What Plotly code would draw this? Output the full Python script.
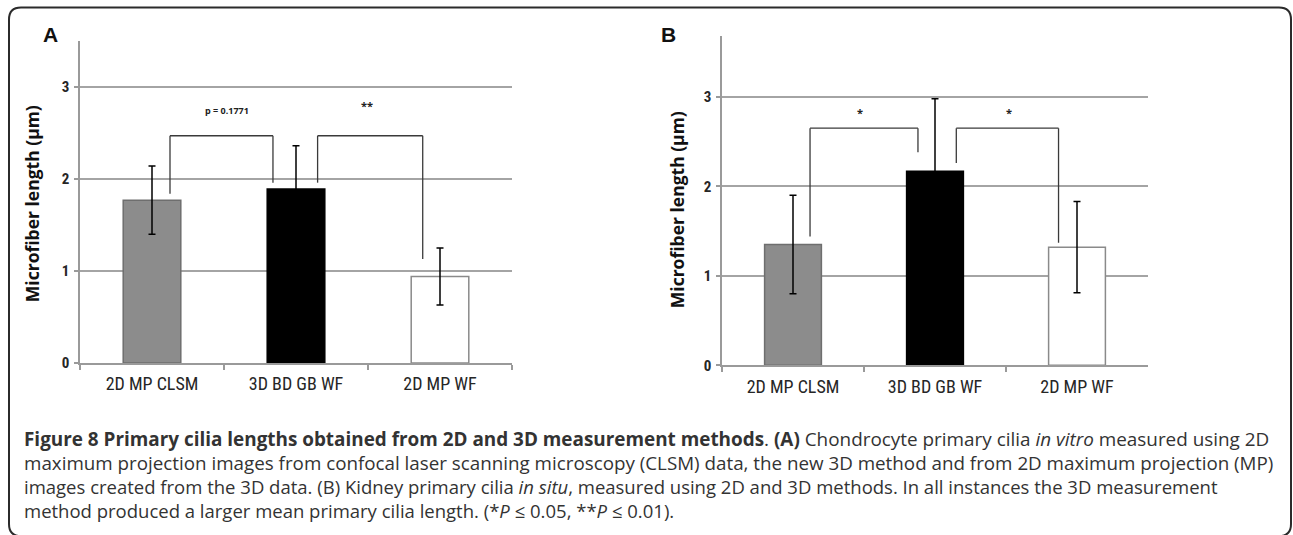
import plotly.graph_objects as go

W, H = 1293, 535          # reference pixel grid used for positioning
FIG_H = 547               # page height (the capture is squeezed to 535)

categories = ["2D MP CLSM", "3D BD GB WF", "2D MP WF"]
bar_colors = ["#8c8c8c", "#000000", "#ffffff"]
bar_lines = ["#6e6e6e", "#000000", "#8a8a8a"]

# Panel A (chondrocyte, in vitro)
mean_a = [1.77, 1.89, 0.94]
err_a = [0.37, 0.47, 0.31]
# Panel B (kidney, in situ)
mean_b = [1.35, 2.17, 1.32]
err_b = [0.55, 0.81, 0.51]

y_ticks = [0, 1, 2, 3]
y_title = "Microfiber length (µm)"

# significance brackets: (x_left, x_right, top, left_end, right_end, label, label_x, label_y)
brackets_a = [
    (0.125, 0.84, 2.47, 1.84, 1.96, "p = 0.1771", 0.52, 2.74),
    (1.15, 1.88, 2.47, 1.96, 1.13, "**", 1.49, 2.80),
]
brackets_b = [
    (0.12, 0.88, 2.65, 1.44, 2.38, "*", 0.47, 2.82),
    (1.15, 1.87, 2.65, 2.26, 1.37, "*", 1.52, 2.82),
]

caption_lines = [
    "<b>Figure 8 Primary cilia lengths obtained from 2D and 3D measurement methods</b>. <b>(A)</b> Chondrocyte primary cilia <i>in vitro</i> measured using 2D",
    "maximum projection images from confocal laser scanning microscopy (CLSM) data, the new 3D method and from 2D maximum projection (MP)",
    "images created from the 3D data. (B) Kidney primary cilia <i>in situ</i>, measured using 2D and 3D methods. In all instances the 3D measurement",
    "method produced a larger mean primary cilia length. (*<i>P</i> ≤ 0.05, **<i>P</i> ≤ 0.01).",
]
# font size per caption line (first two lines slightly larger to fill the justified width)
caption_sizes = [18.9, 18.8, 18.5, 18.5]


def px(x):
    return x / W


def py(y):
    return 1 - y / H


fig = go.Figure()

for means, errs, xa, ya in [(mean_a, err_a, "x", "y"), (mean_b, err_b, "x2", "y2")]:
    fig.add_trace(go.Bar(
        x=categories, y=means, width=0.4,
        marker=dict(color=bar_colors, line=dict(color=bar_lines, width=1.5)),
        error_y=dict(type="data", array=errs, color="#000000", thickness=1.5, width=3.5),
        xaxis=xa, yaxis=ya, showlegend=False,
    ))

NARROW = "Liberation Sans Narrow, Roboto Condensed, Roboto, sans-serif"
tick_font = dict(family=NARROW, size=18, color="#262626")
ytick_font = dict(family=NARROW, size=15, color="#262626", weight="bold")


def xaxis_cfg(x0, x1, anchor):
    return dict(domain=[px(x0), px(x1)], anchor=anchor, type="category", range=[-0.5, 2.5],
                showline=True, linecolor="#9a9a9a", linewidth=1.5, ticks="outside",
                tickson="boundaries", ticklen=5, tickcolor="#9a9a9a", tickwidth=1.5,
                showgrid=False, tickfont=tick_font, ticklabelstandoff=4, fixedrange=True)


def yaxis_cfg(y0px, toppx, rng, anchor):
    return dict(domain=[py(y0px), py(toppx)], anchor=anchor, range=rng, tickvals=y_ticks,
                showgrid=True, gridcolor="#a4a4a4", gridwidth=1.5, showline=True,
                linecolor="#9a9a9a", linewidth=1.5, ticks="outside", ticklen=4,
                tickcolor="#9a9a9a", tickwidth=1.5, zeroline=False, tickfont=ytick_font,
                ticklabelstandoff=2, fixedrange=True)


shapes = []
annotations = []

for brs, xr, yr in [(brackets_a, "x", "y"), (brackets_b, "x2", "y2")]:
    for xl, xr_, top, le, re_, lab, lx, ly in brs:
        for (a, b, c, d) in [(xl, le, xl, top), (xl, top, xr_, top), (xr_, top, xr_, re_)]:
            shapes.append(dict(type="line", xref=xr, yref=yr, x0=a, y0=b, x1=c, y1=d,
                               line=dict(color="#3a3a3a", width=1.3)))
        annotations.append(dict(xref=xr, yref=yr, x=lx, y=ly, text="<b>" + lab + "</b>",
                                xanchor="center", yanchor="middle",
                                showarrow=False, font=dict(family="Open Sans, sans-serif",
                                                           size=9 if lab.startswith("p") else 11,
                                                           color="#222")))

# rounded border
x0b, x1b, y0b, y1b, r = 9, 1291, 7.5, 533, 12
path = (f"M {px(x0b + r)},{py(y0b)} L {px(x1b - r)},{py(y0b)} Q {px(x1b)},{py(y0b)} {px(x1b)},{py(y0b + r)} "
        f"L {px(x1b)},{py(y1b - r)} Q {px(x1b)},{py(y1b)} {px(x1b - r)},{py(y1b)} "
        f"L {px(x0b + r)},{py(y1b)} Q {px(x0b)},{py(y1b)} {px(x0b)},{py(y1b - r)} "
        f"L {px(x0b)},{py(y0b + r)} Q {px(x0b)},{py(y0b)} {px(x0b + r)},{py(y0b)} Z")
shapes.append(dict(type="path", xref="paper", yref="paper", path=path,
                   line=dict(color="#2b2b2b", width=2)))

# panel letters
for lab, x in [("A", 50), ("B", 668)]:
    annotations.append(dict(xref="paper", yref="paper", x=px(x), y=py(34), text="<b>" + lab + "</b>",
                            xanchor="center", yanchor="middle", showarrow=False,
                            font=dict(family="Liberation Sans, Arial, sans-serif", size=21, color="#111")))

# y-axis titles
for x, y in [(32, 203), (677, 208)]:
    annotations.append(dict(xref="paper", yref="paper", x=px(x), y=py(y), text="<b>" + y_title + "</b>",
                            xanchor="center", yanchor="middle", textangle=-90, showarrow=False,
                            font=dict(family="Open Sans, sans-serif", size=17.5, color="#111")))

# caption: one multi-line text block
cap_text = "<br>".join(
    f'<span style="font-size:{s}px">{ln}</span>' if s != 18.5 else ln
    for ln, s in zip(caption_lines, caption_sizes)
)
annotations.append(dict(xref="paper", yref="paper", x=px(22), y=py(472), xanchor="left",
                        yanchor="middle", align="left", text=cap_text, showarrow=False,
                        font=dict(family="Open Sans, sans-serif", size=18.5, color="#333")))

fig.update_layout(
    width=W, height=FIG_H, margin=dict(l=0, r=0, t=0, b=0),
    paper_bgcolor="white", plot_bgcolor="white",
    xaxis=xaxis_cfg(80, 512, "y"),
    yaxis=yaxis_cfg(361, 40.75, [0, 3.5], "x"),
    xaxis2=xaxis_cfg(722, 1148, "y2"),
    yaxis2=yaxis_cfg(363.3, 35.8, [0, 3.68], "x2"),
    shapes=shapes, annotations=annotations, bargap=0.6,
)

fig.write_html("out.html", config={"displayModeBar": False},
               post_script="document.body.style.margin='0px';document.body.style.overflow='hidden';")
